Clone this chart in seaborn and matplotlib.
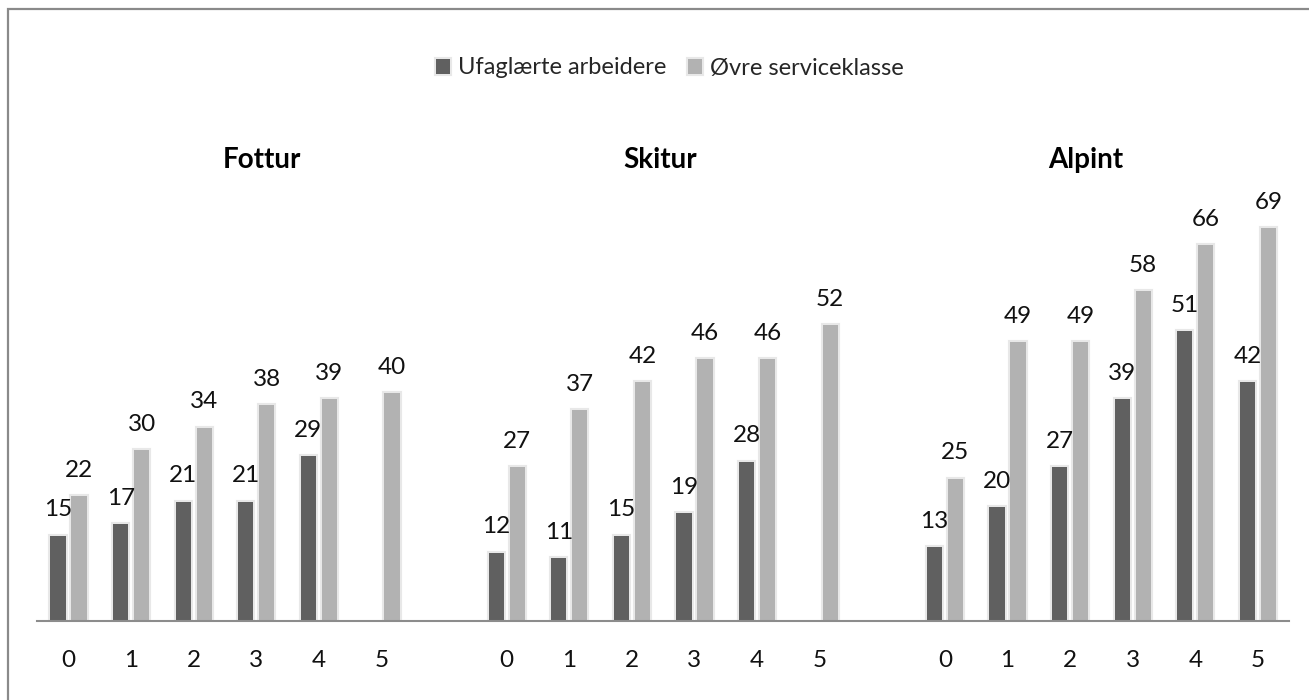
import matplotlib
matplotlib.use("Agg")
import matplotlib.pyplot as plt
import matplotlib.patheffects as pe
from matplotlib.patches import Rectangle
import numpy as np
import pandas as pd
import seaborn as sns

# data
activities = ["Fottur", "Skitur", "Alpint"]
levels = [0, 1, 2, 3, 4, 5]
classes = ["Ufaglærte arbeidere", "Øvre serviceklasse"]

fottur_ufaglaerte = [15, 17, 21, 21, 29, np.nan]
fottur_ovre = [22, 30, 34, 38, 39, 40]
skitur_ufaglaerte = [12, 11, 15, 19, 28, np.nan]
skitur_ovre = [27, 37, 42, 46, 46, 52]
alpint_ufaglaerte = [13, 20, 27, 39, 51, 42]
alpint_ovre = [25, 49, 49, 58, 66, 69]

series = {
    "Fottur": (fottur_ufaglaerte, fottur_ovre),
    "Skitur": (skitur_ufaglaerte, skitur_ovre),
    "Alpint": (alpint_ufaglaerte, alpint_ovre),
}

rows = []
for i, act in enumerate(activities):
    for k, kl in enumerate(classes):
        for j, lev in enumerate(levels):
            rows.append({"activity": act, "level": lev, "klasse": kl,
                         "pos": i * (len(levels) + 1) + j,
                         "value": series[act][k][j]})
df = pd.DataFrame(rows).dropna()

DARK = "#606060"
LIGHT = "#b2b2b2"

sns.set_theme(style="white")
plt.rcParams["font.family"] = ["Lato", "DejaVu Sans"]

W, H = 1309, 700
fig = plt.figure(figsize=(W / 100, H / 100), dpi=100)
ax = fig.add_axes([37.2 / W, (H - 621) / H, (1289.2 - 37.2) / W, (80 * 5.69) / H])

sns.barplot(data=df, x="pos", y="value", hue="klasse", hue_order=classes,
            native_scale=True, palette=[DARK, LIGHT], width=0.67, gap=0.28,
            saturation=1, errorbar=None, ax=ax)

for patch in ax.patches:
    patch.set_path_effects([pe.withStroke(linewidth=3, foreground="#e8e8e8")])
    patch.set_linewidth(0)

for cont in ax.containers:
    ax.bar_label(cont, fmt="%g", padding=11, fontsize=17.5, color="#111111")

handles, labels = ax.get_legend_handles_labels()
ax.get_legend().remove()
fig.legend(handles, labels, loc="center", bbox_to_anchor=(670 / W, 1 - 68 / H),
           ncol=2, frameon=False, fontsize=17, handlelength=0.6, handleheight=0.6,
           handletextpad=0.35, columnspacing=0.9)

ticks = [i * (len(levels) + 1) + j for i in range(len(activities)) for j in range(len(levels))]
ax.set_xticks(ticks)
ax.set_xticklabels([str(l) for _ in activities for l in levels], fontsize=17.5, color="#111111")
ax.tick_params(axis="x", length=0, pad=21)
ax.set_yticks([])
ax.set_xlim(-0.5, 19.5)
ax.set_ylim(0, 80)
ax.set_xlabel("")
ax.set_ylabel("")
for s in ["top", "right", "left"]:
    ax.spines[s].set_visible(False)
ax.spines["bottom"].set_color("#8c8c8c")
ax.spines["bottom"].set_linewidth(1.5)

title_x = [262, 660, 1086]
for act, tx in zip(activities, title_x):
    fig.text(tx / W, 1 - 160 / H, act, ha="center", va="center",
             fontsize=20, fontweight="bold", color="#000000")

# outer chart frame (only top and left visible in the crop)
fig.patches.append(Rectangle((8 / W, -0.1), 1.2, 1 - 9 / H + 0.1, transform=fig.transFigure,
                             fill=False, edgecolor="#8a8a8a", linewidth=1.6))

fig.savefig("out.png", dpi=100)
